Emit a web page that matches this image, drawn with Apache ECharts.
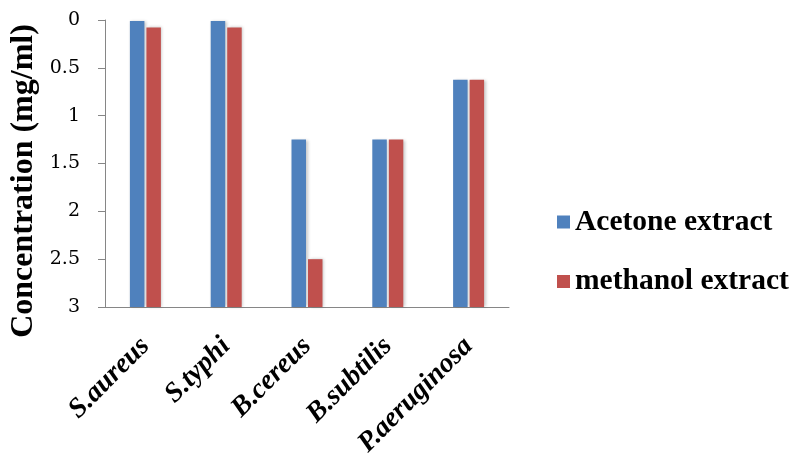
<!DOCTYPE html>
<html>
<head>
<meta charset="utf-8">
<script src="https://cdn.jsdelivr.net/npm/echarts@6/dist/echarts.min.js"></script>
<style>html,body{margin:0;padding:0;background:#fff}#c{width:798px;height:465px}</style>
</head>
<body>
<div id="c"></div>
<script>
var categories = ['S.aureus', 'S.typhi', 'B.cereus', 'B.subtilis', 'P.aeruginosa'];
var acetone = [0.01, 0.01, 1.25, 1.25, 0.625];
var methanol = [0.078, 0.078, 2.5, 1.25, 0.625];
var yTicks = [0, 0.5, 1, 1.5, 2, 2.5, 3];
var seriesNames = ['Acetone extract', 'methanol extract'];
var colors = ['#4F81BD', '#C0504D'];

var AXIS_MAX = yTicks[yTicks.length - 1];
var BAR_W = 14.5, GAP = 2;

function makeRender(side) {
  return function (params, api) {
    var idx = api.value(0);
    var top = api.coord([idx, api.value(1)]);
    var base = api.coord([idx, AXIS_MAX]);
    var x = side === 0 ? top[0] - GAP / 2 - BAR_W : top[0] + GAP / 2;
    return {
      type: 'rect',
      shape: { x: x, y: top[1], width: BAR_W, height: base[1] - top[1] },
      style: {
        fill: colors[side],
        shadowColor: 'rgba(0,0,0,0.22)',
        shadowBlur: 3,
        shadowOffsetX: 1.5,
        shadowOffsetY: 0
      }
    };
  };
}

function toData(arr) {
  return arr.map(function (v, i) { return [i, v]; });
}

var chart = echarts.init(document.getElementById('c'));
chart.setOption({
  animation: false,
  grid: { left: 105, right: 289, top: 20, bottom: 158 },
  legend: {
    orient: 'vertical',
    left: 552,
    top: 202,
    itemWidth: 13,
    itemHeight: 13,
    itemGap: 29.5,
    icon: 'rect',
    data: seriesNames,
    textStyle: {
      fontFamily: 'Liberation Serif',
      fontWeight: 'bold',
      fontSize: 29.5,
      lineHeight: 29,
      color: '#000',
      padding: [0, 0, 0, 0]
    }
  },
  graphic: [{
    type: 'text',
    x: 24,
    y: 181,
    rotation: Math.PI / 2,
    style: {
      text: 'Concentration (mg/ml)',
      font: 'bold 32px "Liberation Serif"',
      fill: '#000',
      align: 'center',
      verticalAlign: 'middle'
    }
  }],
  xAxis: {
    type: 'category',
    data: categories,
    axisLine: { onZero: false, lineStyle: { color: '#868686', width: 1 } },
    axisTick: { show: false },
    axisLabel: {
      rotate: 45,
      margin: 35,
      interval: 0,
      fontFamily: 'Liberation Serif',
      fontWeight: 'bold',
      fontStyle: 'italic',
      fontSize: 28,
      color: '#000'
    }
  },
  yAxis: {
    type: 'value',
    inverse: true,
    min: 0,
    max: AXIS_MAX,
    interval: 0.5,
    axisLine: { show: true, lineStyle: { color: '#868686', width: 1 } },
    axisTick: { show: true, length: 7, lineStyle: { color: '#868686' } },
    splitLine: { show: false },
    axisLabel: {
      margin: 25,
      fontFamily: 'DejaVu Serif',
      fontSize: 19,
      color: '#000'
    }
  },
  series: [
    { name: seriesNames[0], type: 'custom', renderItem: makeRender(0), itemStyle: { color: colors[0] },
      encode: { x: 0, y: 1 }, data: toData(acetone) },
    { name: seriesNames[1], type: 'custom', renderItem: makeRender(1), itemStyle: { color: colors[1] },
      encode: { x: 0, y: 1 }, data: toData(methanol) }
  ]
});
</script>
</body>
</html>
